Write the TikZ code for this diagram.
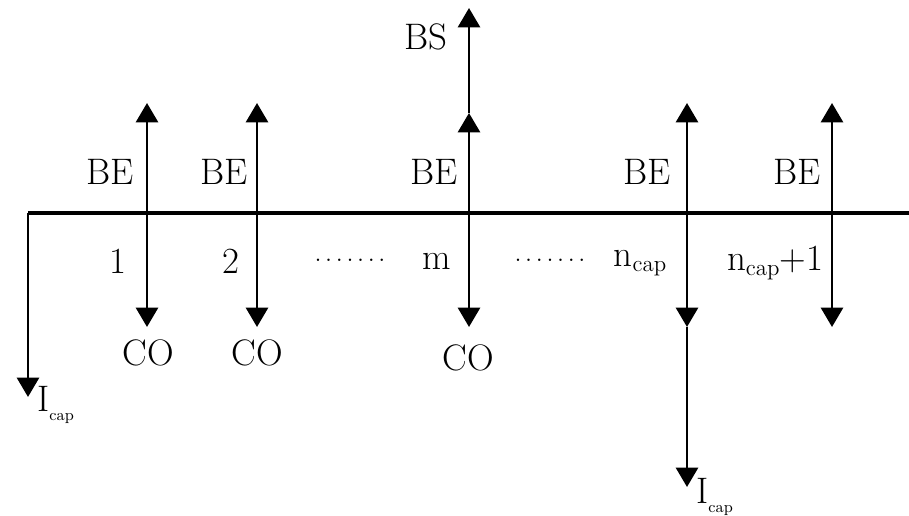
\documentclass[tikz,border=0pt]{standalone}
\usetikzlibrary{arrows.meta}
\begin{document}
\begin{tikzpicture}[x=0.02cm,y=-0.02cm,
  flow/.style={line width=1.6pt,-{Triangle[length=11pt,width=12.5pt]}},
  axis/.style={line width=2.2pt},
  lbl/.style={font=\fontsize{21}{24}\selectfont,inner sep=0pt},
  dotsl/.style={font=\fontsize{17}{20}\selectfont,inner sep=0pt}]
\useasboundingbox (0,0) rectangle (909,516);
% timeline
\coordinate (t0) at (28,213);
\coordinate (tend) at (909,213);
\draw[axis] (t0) -- (tend);
% period points
\coordinate (p1) at (147,213);
\coordinate (p2) at (257,213);
\coordinate (pm) at (469,213);
\coordinate (pn) at (687,213);
\coordinate (pn1) at (832,213);
% arrow ends
\coordinate (u1) at (147,103);
\coordinate (d1) at (147,327);
\coordinate (u2) at (257,103);
\coordinate (d2) at (257,327);
\coordinate (um) at (469,113);
\coordinate (bs) at (469,8);
\coordinate (dm) at (469,327);
\coordinate (un) at (687,103);
\coordinate (dn) at (687,327);
\coordinate (icn) at (687,487);
\coordinate (un1) at (832,103);
\coordinate (dn1) at (832,327);
\coordinate (ic0) at (28,397);
% arrows
\draw[flow] (t0) -- (ic0);
\draw[flow] (p1) -- (u1);
\draw[flow] (p1) -- (d1);
\draw[flow] (p2) -- (u2);
\draw[flow] (p2) -- (d2);
\draw[flow] (pm) -- (um);
\draw[flow] (um) -- (bs);
\draw[flow] (pm) -- (dm);
\draw[flow] (pn) -- (un);
\draw[flow] (pn) -- (dn);
\draw[flow] (dn) -- (icn);
\draw[flow] (pn1) -- (un1);
\draw[flow] (pn1) -- (dn1);
% labels
\node[lbl] (be1) at (110,172) {BE};
\node[lbl] (be2) at (224,172) {BE};
\node[lbl] (bem) at (434,172) {BE};
\node[lbl] (ben) at (647,172) {BE};
\node[lbl] (ben1) at (797,172) {BE};
\node[lbl] (bsl) at (426,37) {BS};
\node[lbl] (n1) at (118,261) {1};
\node[lbl] (n2) at (231,261) {2};
\node[dotsl] (dots1) at (350,260) {.\kern1.8pt.\kern1.8pt.\kern1.8pt.\kern1.8pt.\kern1.8pt.\kern1.8pt.};
\node[lbl] (nm) at (437,261) {m};
\node[dotsl] (dots2) at (550,260) {.\kern1.8pt.\kern1.8pt.\kern1.8pt.\kern1.8pt.\kern1.8pt.\kern1.8pt.};
\node[lbl] (nn) at (640,263) {n\raisebox{-0.35ex}{\fontsize{13}{15}\selectfont cap}};
\node[lbl] (nn1) at (775,263) {n\raisebox{-0.35ex}{\fontsize{13}{15}\selectfont cap}+1};
\node[lbl] (co1) at (148,353) {CO};
\node[lbl] (co2) at (257,353) {CO};
\node[lbl] (com) at (468,358) {CO};
\node[lbl,anchor=west] (ic0l) at (37,405) {I\raisebox{-0.6ex}{\fontsize{9}{10}\selectfont cap}};
\node[lbl,anchor=west] (icnl) at (696,497) {I\raisebox{-0.6ex}{\fontsize{9}{10}\selectfont cap}};
\end{tikzpicture}
\end{document}
